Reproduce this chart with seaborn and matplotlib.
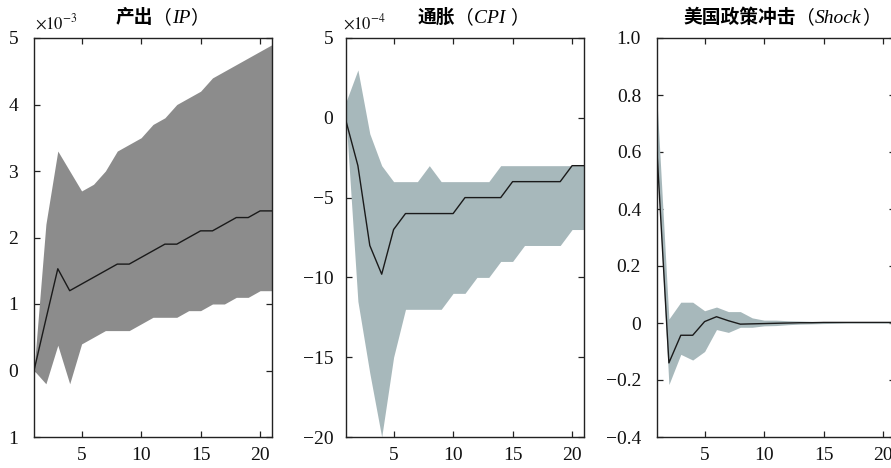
import numpy as np
import pandas as pd
import matplotlib
matplotlib.use("Agg")
import matplotlib.pyplot as plt
import seaborn as sns
from matplotlib.ticker import FixedLocator, FixedFormatter

# ---------------- data ----------------
periods = list(range(1, 22))

# Output (IP), units of 1e-3
ip_median = [0, 0.77, 1.53, 1.2, 1.3, 1.4, 1.5, 1.6, 1.6, 1.7, 1.8, 1.9, 1.9, 2.0, 2.1, 2.1, 2.2, 2.3, 2.3, 2.4, 2.4]
ip_upper = [0, 2.2, 3.3, 3.0, 2.7, 2.8, 3.0, 3.3, 3.4, 3.5, 3.7, 3.8, 4.0, 4.1, 4.2, 4.4, 4.5, 4.6, 4.7, 4.8, 4.9]
ip_lower = [0, -0.2, 0.38, -0.2, 0.4, 0.5, 0.6, 0.6, 0.6, 0.7, 0.8, 0.8, 0.8, 0.9, 0.9, 1.0, 1.0, 1.1, 1.1, 1.2, 1.2]

# Inflation (CPI), units of 1e-4
cpi_median = [-0.2, -3, -8, -9.8, -7, -6, -6, -6, -6, -6, -5, -5, -5, -5, -4, -4, -4, -4, -4, -3, -3]
cpi_upper = [1, 3, -1, -3, -4, -4, -4, -3, -4, -4, -4, -4, -4, -3, -3, -3, -3, -3, -3, -3, -3]
cpi_lower = [0, -11.5, -16, -20, -15, -12, -12, -12, -12, -11, -11, -10, -10, -9, -9, -8, -8, -8, -8, -7, -7]

# US policy shock
shock_median = [0.6, -0.14, -0.043, -0.043, 0.005, 0.022, 0.008, -0.004, -0.003, -0.002, -0.001, 0.0,
                0.001, 0.001, 0.002, 0.002, 0.002, 0.002, 0.002, 0.002, 0.002]
shock_upper = [0.78, 0.014, 0.073, 0.073, 0.043, 0.056, 0.04, 0.04, 0.018, 0.01, 0.01, 0.008,
               0.007, 0.006, 0.005, 0.005, 0.004, 0.004, 0.004, 0.004, 0.004]
shock_lower = [0.57, -0.216, -0.11, -0.13, -0.1, -0.023, -0.033, -0.015, -0.015, -0.01, -0.009, -0.006,
               -0.004, -0.003, -0.002, -0.001, 0, 0, 0, 0, 0]

x_ticks = [5, 10, 15, 20]
ip_yticks = [-1, 0, 1, 2, 3, 4, 5]
ip_ylabels = ["1", "0", "1", "2", "3", "4", "5"]
cpi_yticks = [-20, -15, -10, -5, 0, 5]
cpi_ylabels = ["\u221220", "\u221215", "\u221210", "\u22125", "0", "5"]
shock_yticks = [-0.4, -0.2, 0, 0.2, 0.4, 0.6, 0.8, 1.0]
shock_ylabels = ["\u22120.4", "\u22120.2", "0", "0.2", "0.4", "0.6", "0.8", "1.0"]

titles = [
    ("产出", "IP", ""),
    ("通胀", "CPI", " "),
    ("美国政策冲击", "Shock", ""),
]
scale_labels = [r"$\times10^{-3}$", r"$\times10^{-4}$", None]

# ---------------- styling ----------------
sns.set_theme(style="ticks")
plt.rcParams["font.family"] = ["Liberation Serif", "DejaVu Serif"]
plt.rcParams["mathtext.fontset"] = "stix"

W, H = 891, 468
fig = plt.figure(figsize=(W / 100, H / 100), dpi=100)

ax_w = 238 / W
ax_h = (437 - 38) / H
ax_b = 1 - 437 / H
lefts = [34 / W, 346 / W, 657 / W]
band_colors = ["#8c8c8c", "#a7b8bb", "#a7b8bb"]
ypads = [11.5, 9.0, 11.5]

series = [
    (ip_median, ip_lower, ip_upper, (-1, 5), ip_yticks, ip_ylabels),
    (cpi_median, cpi_lower, cpi_upper, (-20, 5), cpi_yticks, cpi_ylabels),
    (shock_median, shock_lower, shock_upper, (-0.4, 1.0), shock_yticks, shock_ylabels),
]

axes = []
for i, (med, lo, up, ylim, yt, yl) in enumerate(series):
    ax = fig.add_axes([lefts[i], ax_b, ax_w, ax_h])
    df = pd.DataFrame({"period": periods, "median": med, "lower": lo, "upper": up})
    ax.fill_between(df["period"], df["lower"], df["upper"], color=band_colors[i], linewidth=0, zorder=1)
    sns.lineplot(data=df, x="period", y="median", ax=ax, color="#1a1a1a", linewidth=1.0, zorder=3)
    ax.set_xlim(1, 21)
    ax.set_ylim(*ylim)
    ax.set_xlabel("")
    ax.set_ylabel("")
    ax.xaxis.set_major_locator(FixedLocator(x_ticks))
    ax.yaxis.set_major_locator(FixedLocator(yt))
    ax.yaxis.set_major_formatter(FixedFormatter(yl))
    ax.tick_params(axis="both", direction="in", length=4, width=0.9, color="#222222",
                   labelsize=14, top=True, right=True, labelcolor="#111111")
    ax.tick_params(axis="y", pad=ypads[i])
    ax.tick_params(axis="x", pad=7)
    for s in ax.spines.values():
        s.set_visible(True)
        s.set_linewidth(1.0)
        s.set_color("#222222")
    axes.append(ax)

# scale (offset) labels
scale_x = [35, 343]
for i, lab in enumerate(scale_labels):
    if lab is None:
        continue
    fig.text(scale_x[i] / W, 1 - 29 / H, lab, fontsize=12, ha="left", va="baseline", color="#111111")

# titles assembled from pieces (Chinese bold sans + italic serif)
fig.canvas.draw()
renderer = fig.canvas.get_renderer()
cjk_bold = dict(family=["Noto Sans CJK SC", "DejaVu Sans"], weight="bold", fontsize=13.5)
cjk_reg = dict(family=["Noto Sans CJK SC", "DejaVu Sans"], weight="normal", fontsize=13.5)
ital = dict(family=["Liberation Serif", "DejaVu Serif"], style="italic", fontsize=14)
title_centers = [157, 468, 777]
base_y = 1 - 23 / H
for i, (cn, en, gap) in enumerate(titles):
    parts = [(cn, cjk_bold), ("（", cjk_reg), (en + gap, ital), ("）", cjk_reg)]
    objs = [fig.text(0, base_y, s, ha="left", va="baseline", color="#000000", **kw) for s, kw in parts]
    fig.canvas.draw()
    widths = [o.get_window_extent(renderer).width for o in objs]
    total = sum(widths[:-1]) + widths[-1] * 0.45
    x = title_centers[i] - total / 2
    for o, w in zip(objs, widths):
        o.set_x(x / W)
        x += w

fig.savefig("out.png", dpi=100)
